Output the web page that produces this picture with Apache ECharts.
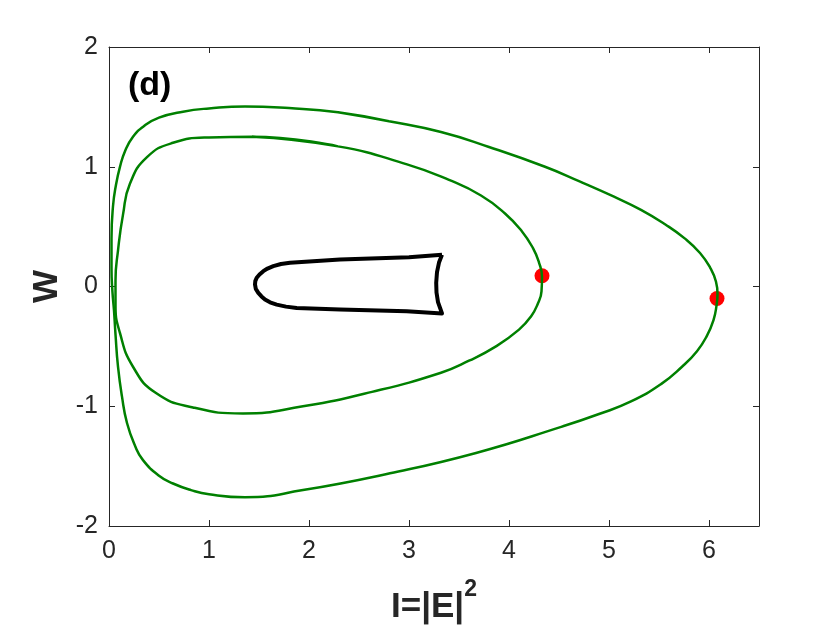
<!DOCTYPE html>
<html>
<head>
<meta charset="utf-8">
<script src="https://cdn.jsdelivr.net/npm/echarts@6/dist/echarts.min.js"></script>
<style>
html, body { margin: 0; padding: 0; background: #fff; }
#chart { width: 840px; height: 630px; }
</style>
</head>
<body>
<div id="chart"></div>
<script>
// axis ticks
var xTicks = [0, 1, 2, 3, 4, 5, 6];
var yTicks = [-2, -1, 0, 1, 2];

// outer green orbit [I, W] (loop, last two points overlap the start)
var outerCurve = [
  [2.29, 1.455], [2.8, 1.38], [3.32, 1.29], [3.8, 1.165], [4.36, 1.0],
  [4.7, 0.88], [5.05, 0.75], [5.32, 0.64], [5.56, 0.52], [5.76, 0.40],
  [5.91, 0.28], [6.01, 0.16], [6.07, 0.04], [6.085, -0.06], [6.075, -0.16],
  [6.045, -0.28], [5.98, -0.41], [5.88, -0.54], [5.73, -0.67], [5.52, -0.815],
  [5.22, -0.96], [4.9, -1.065], [4.53, -1.17], [3.67, -1.39], [2.81, -1.56],
  [1.94, -1.70], [1.36, -1.76], [1.0, -1.735], [0.82, -1.70], [0.64, -1.645],
  [0.5, -1.58], [0.34, -1.45], [0.26, -1.33], [0.18, -1.14], [0.13, -0.92],
  [0.09, -0.67], [0.065, -0.40], [0.05, -0.20], [0.035, -0.05], [0.025, 0.15],
  [0.025, 0.40], [0.04, 0.67], [0.07, 0.85], [0.11, 1.0], [0.16, 1.13],
  [0.24, 1.25], [0.35, 1.34], [0.5, 1.41], [0.74, 1.46], [1.0, 1.487],
  [1.36, 1.504], [1.8, 1.49], [2.29, 1.455], [2.8, 1.38]
];

// inner green orbit [I, W] (loop, last two points overlap the start)
var innerCurve = [
  [1.43, 1.25], [2.29, 1.17], [2.98, 1.02], [3.4, 0.89], [3.72, 0.76],
  [3.96, 0.61], [4.13, 0.46], [4.24, 0.32], [4.30, 0.20], [4.33, 0.08],
  [4.325, -0.04], [4.29, -0.14], [4.22, -0.25], [4.1, -0.36], [3.87, -0.50],
  [3.6, -0.62], [3.32, -0.72], [2.63, -0.88], [1.94, -1.0], [1.34, -1.06],
  [0.84, -1.01], [0.47, -0.89], [0.24, -0.67], [0.11, -0.39], [0.065, -0.15],
  [0.065, 0.05], [0.09, 0.30], [0.14, 0.60], [0.21, 0.86], [0.38, 1.08],
  [0.64, 1.20], [1.0, 1.245], [1.43, 1.25], [2.29, 1.17]
];

// black closed loop [I, W]
var blackLoop = [
  [3.33, 0.265], [3.0, 0.245], [2.31, 0.226], [1.81, 0.198], [1.72, 0.188],
  [1.643, 0.17], [1.585, 0.15], [1.543, 0.128], [1.505, 0.10], [1.477, 0.073],
  [1.463, 0.045], [1.46, 0.017], [1.468, -0.02], [1.493, -0.053], [1.525, -0.083],
  [1.56, -0.109], [1.61, -0.132], [1.677, -0.151], [1.77, -0.168], [1.877, -0.179],
  [2.31, -0.193], [2.977, -0.207], [3.33, -0.225], [3.29, -0.13], [3.275, -0.05],
  [3.272, 0.03], [3.28, 0.12], [3.30, 0.20], [3.33, 0.265]
];

// red points
var redPoints = [[4.33, 0.09], [6.08, -0.10]];

var axisColor = '#262626';
var font = 'Liberation Sans, Arial, Helvetica, sans-serif';

var chart = echarts.init(document.getElementById('chart'));

var option = {
  animation: false,
  backgroundColor: '#fff',
  title: {
    text: '(d)',
    left: 123,
    top: 64,
    textStyle: { fontFamily: font, fontSize: 34, fontWeight: 'bold', color: '#000' }
  },
  grid: { left: 109, right: 81, top: 47, bottom: 104 },
  xAxis: [{
    type: 'value',
    min: 0, max: 6.5, interval: 1,
    position: 'bottom',
    axisLine: { show: true, onZero: false, lineStyle: { color: axisColor, width: 1 } },
    axisTick: { inside: true, length: 6, lineStyle: { color: axisColor } },
    axisLabel: {
      showMaxLabel: false, margin: 13, color: axisColor, fontFamily: font, fontSize: 25,
      formatter: function (v) { return xTicks.indexOf(v) >= 0 ? String(v) : ''; }
    },
    splitLine: { show: false },
    name: '{a|I=|E|}{b|2}',
    nameLocation: 'middle',
    nameGap: 52,
    nameTextStyle: {
      rich: {
        a: { fontFamily: font, fontSize: 35, fontWeight: 'bold', color: axisColor, verticalAlign: 'bottom', padding: [12, 0, 0, 0] },
        b: { fontFamily: font, fontSize: 23, fontWeight: 'bold', color: axisColor, verticalAlign: 'top' }
      }
    }
  }, {
    type: 'value',
    min: 0, max: 6.5, interval: 1,
    position: 'top',
    axisLine: { show: true, onZero: false, lineStyle: { color: axisColor, width: 1 } },
    axisTick: { show: true, inside: true, length: 6, lineStyle: { color: axisColor } },
    axisLabel: { show: false },
    splitLine: { show: false }
  }],
  yAxis: [{
    type: 'value',
    min: -2, max: 2, interval: 1,
    position: 'left',
    axisLine: { show: true, onZero: false, lineStyle: { color: axisColor, width: 1 } },
    axisTick: { show: true, inside: true, length: 6, lineStyle: { color: axisColor } },
    axisLabel: {
      margin: 11, color: axisColor, fontFamily: font, fontSize: 25,
      formatter: function (v) { return yTicks.indexOf(v) >= 0 ? String(v) : ''; }
    },
    splitLine: { show: false },
    name: 'W',
    nameLocation: 'middle',
    nameGap: 43,
    nameTextStyle: { fontFamily: font, fontSize: 35, fontWeight: 'bold', color: axisColor }
  }, {
    type: 'value',
    min: -2, max: 2, interval: 1,
    position: 'right',
    axisLine: { show: true, onZero: false, lineStyle: { color: axisColor, width: 1 } },
    axisTick: { show: true, inside: true, length: 6, lineStyle: { color: axisColor } },
    axisLabel: { show: false },
    splitLine: { show: false }
  }],
  series: [{
    type: 'line',
    data: outerCurve,
    smooth: 0.5,
    showSymbol: false,
    lineStyle: { color: '#008000', width: 2.5, join: 'round' }
  }, {
    type: 'line',
    data: innerCurve,
    smooth: 0.5,
    showSymbol: false,
    lineStyle: { color: '#008000', width: 2.5, join: 'round' }
  }, {
    type: 'line',
    data: blackLoop,
    smooth: false,
    showSymbol: false,
    lineStyle: { color: '#000', width: 4, join: 'round' }
  }, {
    type: 'scatter',
    data: redPoints,
    symbol: 'circle',
    symbolSize: 15,
    itemStyle: { color: '#ff0000', opacity: 1 }
  }]
};

chart.setOption(option);
</script>
</body>
</html>
